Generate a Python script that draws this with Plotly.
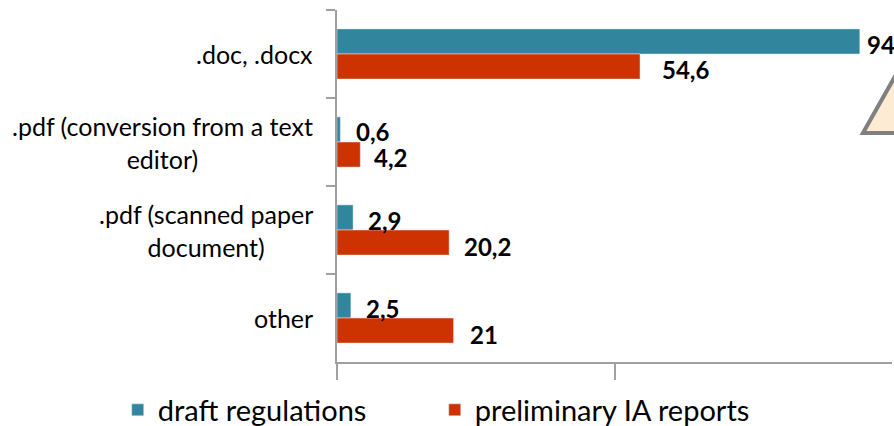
import plotly.graph_objects as go

categories = [".doc, .docx", ".pdf (conversion from a text<br>editor)",
              ".pdf (scanned paper<br>document)", "other"]
series_names = ["draft regulations", "preliminary IA reports"]
draft_values = [94.2, 0.6, 2.9, 2.5]
ia_values = [54.6, 4.2, 20.2, 21.0]
draft_labels = ["94,2", "0,6", "2,9", "2,5"]
ia_labels = ["54,6", "4,2", "20,2", "21"]

colors = ["#31859C", "#CC3300"]
FONT = "Lato"

# label offsets (pixels) relative to bar end / group centre
draft_shift = [(5, 10), (14, 11), (13, 10), (13, 10)]
ia_shift = [(20, -15), (12, -15), (13, -16), (14, -16)]

fig = go.Figure()
fig.add_trace(go.Bar(y=categories, x=draft_values, orientation="h",
                     name=series_names[0], marker_color=colors[0],
                     hoverinfo="skip"))
fig.add_trace(go.Bar(y=categories, x=ia_values, orientation="h",
                     name=series_names[1], marker_color=colors[1],
                     hoverinfo="skip"))

ann = []
for vals, labs, shifts in [(draft_values, draft_labels, draft_shift),
                           (ia_values, ia_labels, ia_shift)]:
    for c, v, t, (dx, dy) in zip(categories, vals, labs, shifts):
        ann.append(dict(x=v, y=c, xref="x", yref="y", text=t, showarrow=False,
                        xanchor="left", yanchor="middle", xshift=dx, yshift=dy,
                        font=dict(family=FONT, size=24, color="black", weight="bold")))
for c in categories:
    ann.append(dict(x=0, y=c, xref="paper", yref="y", text=c, showarrow=False,
                    xanchor="right", yanchor="middle", align="center", xshift=-22,
                    font=dict(family=FONT, size=25, color="black")))

# decorative warning triangle (partly outside the view)
def px(xp, yp):
    return (xp - 336.5) / 555.6, (362 - yp) / 352

p1 = px(863, 133); p2 = px(927, 20); p3 = px(991, 133)
tri = dict(type="path", xref="paper", yref="paper",
           path=f"M {p1[0]} {p1[1]} L {p2[0]} {p2[1]} L {p3[0]} {p3[1]} Z",
           fillcolor="#FDEBD3", line=dict(color="#808080", width=4))

fig.update_layout(
    width=894, height=426,
    margin=dict(l=336.5, r=1.5, t=10, b=64, autoexpand=False),
    paper_bgcolor="white", plot_bgcolor="white",
    barmode="group", bargap=0.43, bargroupgap=0,
    showlegend=True,
    legend=dict(orientation="h", x=(117 - 336.5) / 555.6, xanchor="left",
                y=(362 - 410) / 352, yanchor="middle", entrywidth=272,
                font=dict(family=FONT, size=29, color="black"),
                traceorder="normal"),
    annotations=ann,
    shapes=[tri],
    font=dict(family=FONT),
)
fig.update_xaxes(range=[0, 100], showgrid=False, zeroline=False,
                 showline=True, linecolor="#A0A0A0", linewidth=1.5,
                 ticks="outside", tickvals=[0, 50], ticklen=16, tickwidth=1.5,
                 tickcolor="#A0A0A0", showticklabels=False)
fig.update_yaxes(autorange="reversed", showgrid=False, zeroline=False,
                 showline=True, linecolor="#A0A0A0", linewidth=1.5,
                 ticks="outside", tickson="boundaries", ticklen=9, tickwidth=1.5,
                 tickcolor="#A0A0A0", showticklabels=False)

fig.write_html("out.html", config={"displayModeBar": False},
               post_script="document.body.style.margin='0';")
